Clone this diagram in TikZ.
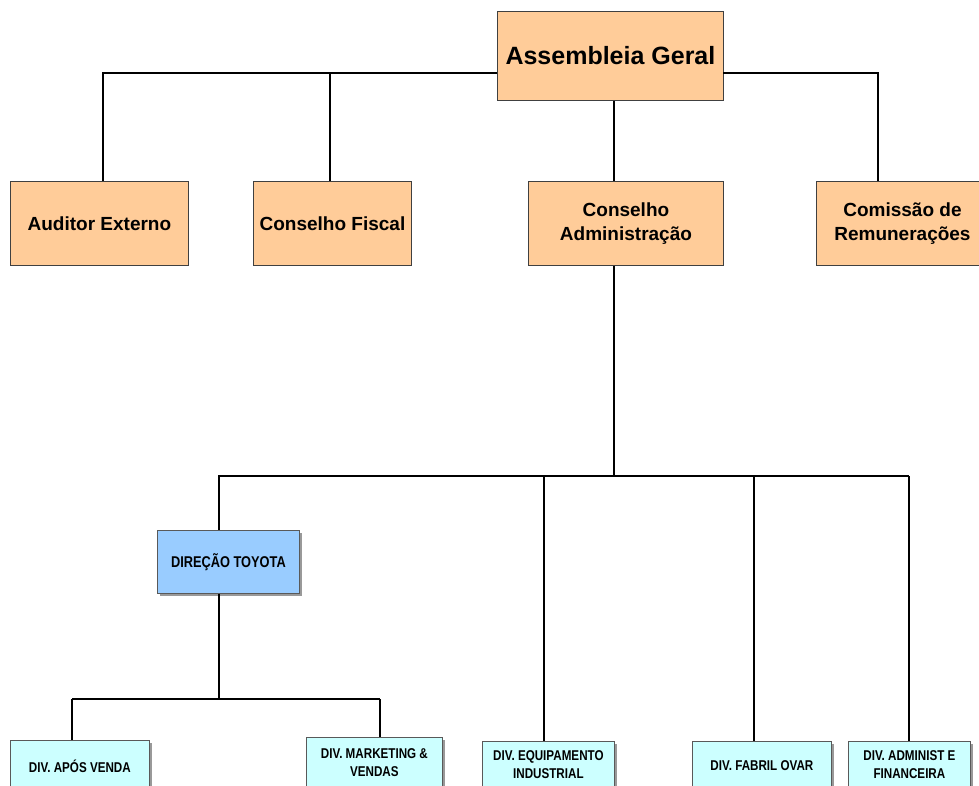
\documentclass[tikz,border=0pt]{standalone}
\usepackage{fontspec}
\setmainfont{Liberation Sans}
\newfontfamily\narrowfont{Liberation Sans}[FakeStretch=0.82]
\usetikzlibrary{shadows}
\definecolor{peach}{HTML}{FFCC99}
\definecolor{lcyan}{HTML}{CCFFFF}
\definecolor{lblue}{HTML}{99CCFF}
\tikzset{
  box/.style={rectangle, inner sep=0pt, anchor=north west, align=center, text=black},
  topbox/.style={box, fill=peach, draw=black!75, line width=0.9pt, font=\bfseries},
  divbox/.style={box, fill=lcyan, draw=black!65, line width=0.8pt,
    font=\narrowfont\bfseries\fontsize{14.2}{18}\selectfont,
    drop shadow={shadow xshift=2.5pt, shadow yshift=-2.5pt, fill=black!40, opacity=1}},
  dirbox/.style={box, fill=lblue, draw=black!65, line width=0.8pt,
    font=\narrowfont\bfseries\fontsize{15.6}{18}\selectfont,
    drop shadow={shadow xshift=2.5pt, shadow yshift=-2.5pt, fill=black!40, opacity=1}},
  thin/.style={line width=1.3pt, black},
  thick/.style={line width=1.9pt, black},
}
\begin{document}
\begin{tikzpicture}[x=1pt, y=-1pt]
\useasboundingbox (0,0) rectangle (979,785);
\clip (0,0) rectangle (979,785);
\fill[white] (0,0) rectangle (979,785);

% top level
\node[topbox, minimum width=226pt, minimum height=89pt, font=\bfseries\fontsize{25}{30}\selectfont] (ag) at (497,11) {Assembleia Geral};

\node[topbox, minimum width=178pt, minimum height=84pt, font=\bfseries\fontsize{19}{24}\selectfont] (ae) at (10,181) {Auditor Externo};
\node[topbox, minimum width=158pt, minimum height=84pt, font=\bfseries\fontsize{19}{24}\selectfont] (cf) at (253,181) {Conselho Fiscal};
\node[topbox, minimum width=195pt, minimum height=84pt, font=\bfseries\fontsize{19}{24}\selectfont] (ca) at (528,181) {Conselho\\Administração};
\node[topbox, minimum width=172pt, minimum height=84pt, font=\bfseries\fontsize{19}{24}\selectfont] (cr) at (816,181) {Comissão de\\Remunerações};

% junction coordinates
\coordinate (agL) at (497,73);
\coordinate (agR) at (723,73);
\coordinate (xAE) at (103,0);
\coordinate (xCF) at (330,0);
\coordinate (xCR) at (878,0);
\coordinate (xCA) at (614,0);

\draw[thin] (agL) -| (ae.north -| xAE);
\draw[thin] (agL -| xCF) -- (cf.north -| xCF);
\draw[thin] (agR) -| (cr.north -| xCR);
\draw[thin] (ag.south -| xCA) -- (ca.north -| xCA);

% lower level
\node[dirbox, minimum width=142pt, minimum height=63pt] (dt) at (157,530) {DIREÇÃO TOYOTA};

\node[divbox, minimum width=139pt, minimum height=52pt] (av) at (10,740) {DIV. APÓS VENDA};
\node[divbox, minimum width=136pt, minimum height=50pt] (mv) at (306,737) {DIV. MARKETING \&\\VENDAS};
\node[divbox, minimum width=132pt, minimum height=46pt] (ei) at (482,741) {DIV. EQUIPAMENTO\\INDUSTRIAL};
\node[divbox, minimum width=139pt, minimum height=48pt] (fo) at (692,741) {DIV. FABRIL OVAR};
\node[divbox, minimum width=122pt, minimum height=46pt] (af) at (848,741) {DIV. ADMINIST E\\FINANCEIRA};

\coordinate (bus) at (614,476);
\coordinate (xDT) at (219,0);
\coordinate (xEI) at (544,0);
\coordinate (xFO) at (754,0);
\coordinate (xAF) at (909,0);
\coordinate (bus2) at (219,699);
\coordinate (xAV) at (72,0);
\coordinate (xMV) at (380,0);

\draw[thick] (ca.south -| xCA) -- (bus);
\draw[thick] (bus -| xAF) -- (bus -| xDT) -- (dt.north -| xDT);
\draw[thick] (bus -| xEI) -- (ei.north -| xEI);
\draw[thick] (bus -| xFO) -- (fo.north -| xFO);
\draw[thick] (bus -| xAF) -- (af.north -| xAF);
\draw[thick] (dt.south -| xDT) -- (bus2);
\draw[thick] (bus2 -| xAV) -- (bus2 -| xMV);
\draw[thick] (bus2 -| xAV) -- (av.north -| xAV);
\draw[thick] (bus2 -| xMV) -- (mv.north -| xMV);
\end{tikzpicture}
\end{document}
